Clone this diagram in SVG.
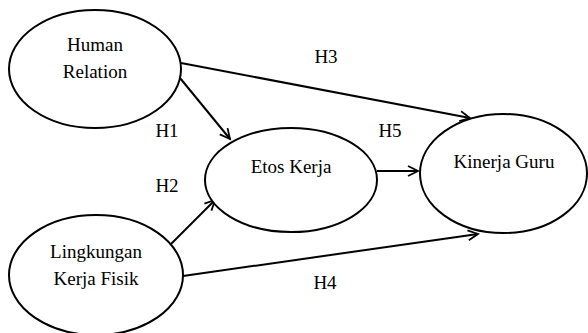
<svg xmlns="http://www.w3.org/2000/svg" width="588" height="333" viewBox="0 0 588 333">
<style>
.n{fill:#fff;stroke:#000;stroke-width:2}
.t{font-family:'Liberation Serif','DejaVu Serif',serif;font-size:19px;fill:#000;text-anchor:middle}
.c{fill:none;stroke:#000;stroke-width:2}
</style>
<defs>
<marker id="a" markerUnits="userSpaceOnUse" markerWidth="14" markerHeight="14" refX="11" refY="6" orient="auto">
<path d="M1,1 L11,6 L1,11" fill="none" stroke="#000" stroke-width="1.8"/>
</marker>
</defs>
<rect width="588" height="333" fill="#fff"/>
<g id="connectors">
<line class="c" x1="181" y1="63" x2="470" y2="118" marker-end="url(#a)"/>
<line class="c" x1="180" y1="78" x2="230" y2="139" marker-end="url(#a)"/>
<line class="c" x1="377" y1="171" x2="418" y2="171" marker-end="url(#a)"/>
<line class="c" x1="170" y1="245" x2="215" y2="200" marker-end="url(#a)"/>
<line class="c" x1="183" y1="276" x2="478" y2="234" marker-end="url(#a)"/>
</g>
<g id="human-relation">
<ellipse class="n" cx="95" cy="69" rx="86" ry="59"/>
<text class="t" x="95" y="51" font-family="Liberation Serif, serif">Human</text>
<text class="t" x="95" y="78" font-family="Liberation Serif, serif">Relation</text>
</g>
<g id="etos-kerja">
<ellipse class="n" cx="291" cy="180" rx="86" ry="52"/>
<text class="t" x="291" y="173">Etos Kerja</text>
</g>
<g id="kinerja-guru">
<ellipse class="n" cx="503.5" cy="173.5" rx="83.5" ry="59.5"/>
<text class="t" x="504" y="168">Kinerja Guru</text>
</g>
<g id="lingkungan-kerja-fisik">
<ellipse class="n" cx="96" cy="275" rx="87" ry="60"/>
<text class="t" x="96" y="258">Lingkungan</text>
<text class="t" x="96" y="285">Kerja Fisik</text>
</g>
<g id="labels">
<text class="t" x="326" y="63">H3</text>
<text class="t" x="167" y="137">H1</text>
<text class="t" x="390" y="137">H5</text>
<text class="t" x="167" y="192">H2</text>
<text class="t" x="325" y="289">H4</text>
</g>
</svg>
